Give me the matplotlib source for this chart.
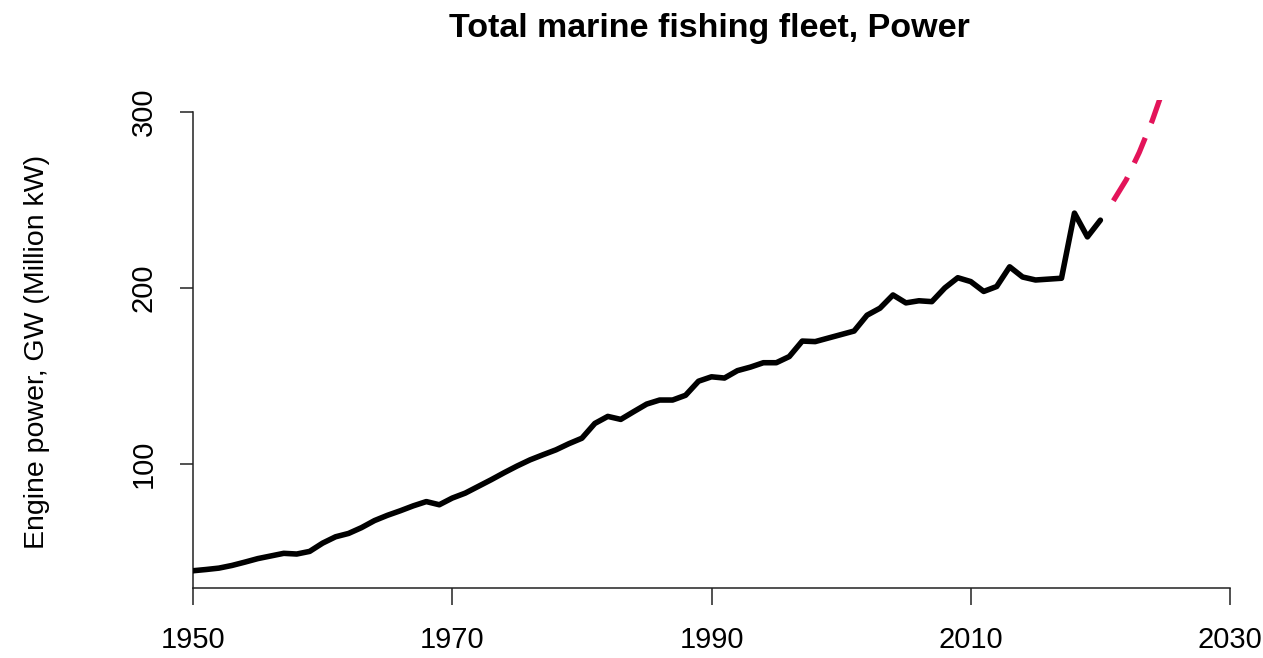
import matplotlib
matplotlib.use("Agg")
import matplotlib.pyplot as plt

# Total engine power of the marine fishing fleet (million kW), annual
years = list(range(1950, 2021))
power = [
    39.3, 40.0, 40.8, 42.3, 44.2, 46.2, 47.7, 49.2, 48.8, 50.3,
    55.0, 58.6, 60.5, 63.8, 67.8, 70.8, 73.4, 76.2, 78.6, 76.8,
    80.6, 83.4, 87.2, 91.0, 95.0, 98.8, 102.3, 105.2, 108.0, 111.5,
    114.6, 123.0, 127.0, 125.3, 129.7, 134.0, 136.3, 136.3, 139.0, 147.0,
    149.5, 148.8, 153.0, 155.0, 157.5, 157.5, 161.0, 169.8, 169.5, 171.5,
    173.5, 175.5, 184.5, 188.5, 196.0, 191.5, 192.7, 192.2, 200.0, 205.8,
    203.6, 198.0, 200.8, 212.0, 206.2, 204.5, 205.0, 205.5, 242.5, 229.0,
    238.5,
]

# Projected engine power
proj_years = [2021, 2022, 2023, 2024, 2025]
proj_power = [249.5, 261.5, 277.0, 295.0, 316.0]

x_ticks = [1950, 1970, 1990, 2010, 2030]
y_ticks = [100, 200, 300]

title = "Total marine fishing fleet, Power"
ylabel = "Engine power, GW (Million kW)"

plt.rcParams["font.family"] = ["Liberation Sans", "DejaVu Sans"]

W, H = 1263, 658
fig = plt.figure(figsize=(W / 100, H / 100), dpi=100)
ax = fig.add_axes([193 / W, 1 - 588 / H, (1230 - 193) / W, (588 - 100) / H])

ax.plot(years, power, color="black", lw=4.0, solid_joinstyle="round",
        solid_capstyle="round", zorder=3)
ax.plot(proj_years, proj_power, color="#E3145A", lw=3.8, dashes=(5.2, 3.0),
        dash_capstyle="butt", zorder=3)

ax.set_xlim(1950, 2030)
ax.set_ylim(29.5, 29.5 + (588 - 100) / 1.76)

for side in ("top", "right"):
    ax.spines[side].set_visible(False)
ax.spines["left"].set_bounds(29.5, 300)
ax.spines["bottom"].set_bounds(1950, 2030)
for side in ("left", "bottom"):
    ax.spines[side].set_linewidth(1.1)
    ax.spines[side].set_color("#222222")

ax.set_xticks(x_ticks)
ax.set_xticklabels([str(v) for v in x_ticks])
ax.set_yticks(y_ticks)
ax.set_yticklabels([str(v) for v in y_ticks], rotation=90, va="center")

ax.tick_params(axis="x", direction="out", length=12.2, width=1.1,
               color="#222222", pad=15, labelsize=21)
ax.tick_params(axis="y", direction="out", length=9.4, width=1.1,
               color="#222222", pad=16, labelsize=21)

fig.text(709 / W, 1 - 28 / H, title, ha="center", va="center",
         fontsize=24.5, fontweight="bold")
fig.text(37 / W, 1 - 352 / H, ylabel, ha="center", va="center",
         rotation=90, fontsize=20.5)

fig.savefig("out.png", dpi=100, facecolor="white")
